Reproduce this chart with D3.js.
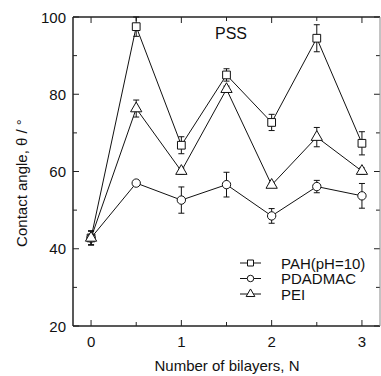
<!DOCTYPE html>
<html>
<head>
<meta charset="utf-8">
<script src="https://cdn.jsdelivr.net/npm/d3@7"></script>
<style>
  body { margin: 0; background: #fff; }
  svg { display: block; font-family: Arial, "Liberation Sans", sans-serif; }
</style>
</head>
<body>
<svg id="chart" width="381" height="376"></svg>
<script>
// data
const bilayers = [0, 0.5, 1, 1.5, 2, 2.5, 3];
const pahValues = [42.8, 97.5, 66.8, 85.0, 72.7, 94.5, 67.3];
const pahErrors = [1.8, 2.5, 2.2, 1.6, 2.1, 3.5, 3.0];
const pdadmacValues = [42.8, 57.0, 52.6, 56.6, 48.5, 56.1, 53.7];
const pdadmacErrors = [1.8, 0.5, 3.4, 3.2, 1.9, 1.6, 3.2];
const peiValues = [42.8, 76.3, 60.1, 81.3, 56.5, 68.9, 60.1];
const peiErrors = [1.8, 2.2, 0.8, 0.8, 0.5, 2.5, 0.8];
const xTicks = [0, 1, 2, 3];
const yTicks = [20, 40, 60, 80, 100];

const seriesList = [
	{ name: 'PAH(pH=10)', values: pahValues, errors: pahErrors, symbol: d3.symbolSquare, size: 60 },
	{ name: 'PDADMAC', values: pdadmacValues, errors: pdadmacErrors, symbol: d3.symbolCircle, size: 55 },
	{ name: 'PEI', values: peiValues, errors: peiErrors, symbol: d3.symbolTriangle, size: 55 }
];

const margin = { left: 73, top: 17, right: 1, bottom: 50 };
const width = 381, height = 376;
const svg = d3.select('#chart');

let xScale = d3.scaleLinear()
	.domain([-0.2, 3.2])
	.range([margin.left, width - margin.right]);
let yScale = d3.scaleLinear()
	.domain([20, 100])
	.range([height - margin.bottom, margin.top]);

const x0 = margin.left, x1 = width - margin.right;
const y0 = height - margin.bottom, y1 = margin.top;

// ticks (inward on all four sides)
let axes = svg.append('g').attr('stroke', '#222');
let minorX = d3.range(0, 3.01, 0.5);
let minorY = d3.range(20, 100.1, 10);

minorX.forEach(function(v) {
	let isMajor = (v % 1 === 0);
	let len = isMajor ? 6 : 4;
	axes.append('line').attr('x1', xScale(v)).attr('x2', xScale(v))
		.attr('y1', y0).attr('y2', y0 - len).attr('stroke-width', 1);
	axes.append('line').attr('x1', xScale(v)).attr('x2', xScale(v))
		.attr('y1', y1).attr('y2', y1 + len).attr('stroke-width', 1);
});
minorY.forEach(function(v) {
	let isMajor = (v % 20 === 0);
	let len = isMajor ? 6 : 4;
	axes.append('line').attr('x1', x0).attr('x2', x0 + len)
		.attr('y1', yScale(v)).attr('y2', yScale(v)).attr('stroke-width', 1);
	axes.append('line').attr('x1', x1).attr('x2', x1 - len)
		.attr('y1', yScale(v)).attr('y2', yScale(v)).attr('stroke-width', 1);
});

// frame
axes.append('line').attr('x1', x0).attr('x2', x1).attr('y1', y0).attr('y2', y0).attr('stroke-width', 1.5);
axes.append('line').attr('x1', x0).attr('x2', x1).attr('y1', y1).attr('y2', y1).attr('stroke-width', 1.5);
axes.append('line').attr('x1', x0).attr('x2', x0).attr('y1', y0).attr('y2', y1).attr('stroke-width', 1.5);
axes.append('line').attr('x1', x1).attr('x2', x1).attr('y1', y0).attr('y2', y1).attr('stroke-width', 1).attr('stroke', '#888');

// tick labels
svg.append('g').selectAll('text').data(xTicks).join('text')
	.attr('x', d => xScale(d)).attr('y', y0 + 21)
	.attr('text-anchor', 'middle').attr('font-size', 15).attr('fill', '#111')
	.text(d => d);
svg.append('g').selectAll('text').data(yTicks).join('text')
	.attr('x', x0 - 7).attr('y', d => yScale(d) + 5.5)
	.attr('text-anchor', 'end').attr('font-size', 15).attr('fill', '#111')
	.text(d => d);

// axis titles
svg.append('text')
	.attr('x', 227).attr('y', 371)
	.attr('text-anchor', 'middle').attr('font-size', 15).attr('fill', '#111')
	.text('Number of bilayers, N');
svg.append('text')
	.attr('transform', 'translate(27,' + 183 + ') rotate(-90)')
	.attr('text-anchor', 'middle').attr('font-size', 15).attr('fill', '#111')
	.text('Contact angle, \u03B8 / \u00B0');

svg.append('text')
	.attr('x', 231).attr('y', 39)
	.attr('text-anchor', 'middle').attr('font-size', 16).attr('fill', '#111')
	.text('PSS');

// series
let line = d3.line()
	.x((d, i) => xScale(bilayers[i]))
	.y(d => yScale(d));

seriesList.forEach(function(series) {
	let g = svg.append('g');
	g.append('path')
		.datum(series.values)
		.attr('d', line)
		.attr('fill', 'none')
		.attr('stroke', '#111')
		.attr('stroke-width', 1);

	// error bars
	series.values.forEach(function(v, i) {
		let cx = xScale(bilayers[i]);
		let e = series.errors[i];
		let top = yScale(v + e), bot = yScale(v - e);
		g.append('line').attr('x1', cx).attr('x2', cx).attr('y1', top).attr('y2', bot)
			.attr('stroke', '#111').attr('stroke-width', 1);
		[top, bot].forEach(function(yy) {
			g.append('line').attr('x1', cx - 3).attr('x2', cx + 3).attr('y1', yy).attr('y2', yy)
				.attr('stroke', '#111').attr('stroke-width', 1);
		});
	});

	g.selectAll('path.mark').data(series.values).join('path')
		.attr('class', 'mark')
		.attr('transform', (d, i) => 'translate(' + xScale(bilayers[i]) + ',' + yScale(d) + ')')
		.attr('d', d3.symbol().type(series.symbol).size(series.size))
		.attr('fill', '#fff')
		.attr('stroke', '#111')
		.attr('stroke-width', 1);
});

// legend
let legend = svg.append('g');
seriesList.forEach(function(series, i) {
	let ly = 263 + i * 15.5;
	legend.append('line').attr('x1', 240).attr('x2', 261).attr('y1', ly).attr('y2', ly)
		.attr('stroke', '#111').attr('stroke-width', 1);
	legend.append('path')
		.attr('transform', 'translate(250.5,' + ly + ')')
		.attr('d', d3.symbol().type(series.symbol).size(series.size * 0.6))
		.attr('fill', '#fff').attr('stroke', '#111').attr('stroke-width', 1);
	legend.append('text')
		.attr('x', 281).attr('y', ly + 5.5)
		.attr('font-size', 15).attr('fill', '#111')
		.text(series.name);
});
</script>
</body>
</html>
